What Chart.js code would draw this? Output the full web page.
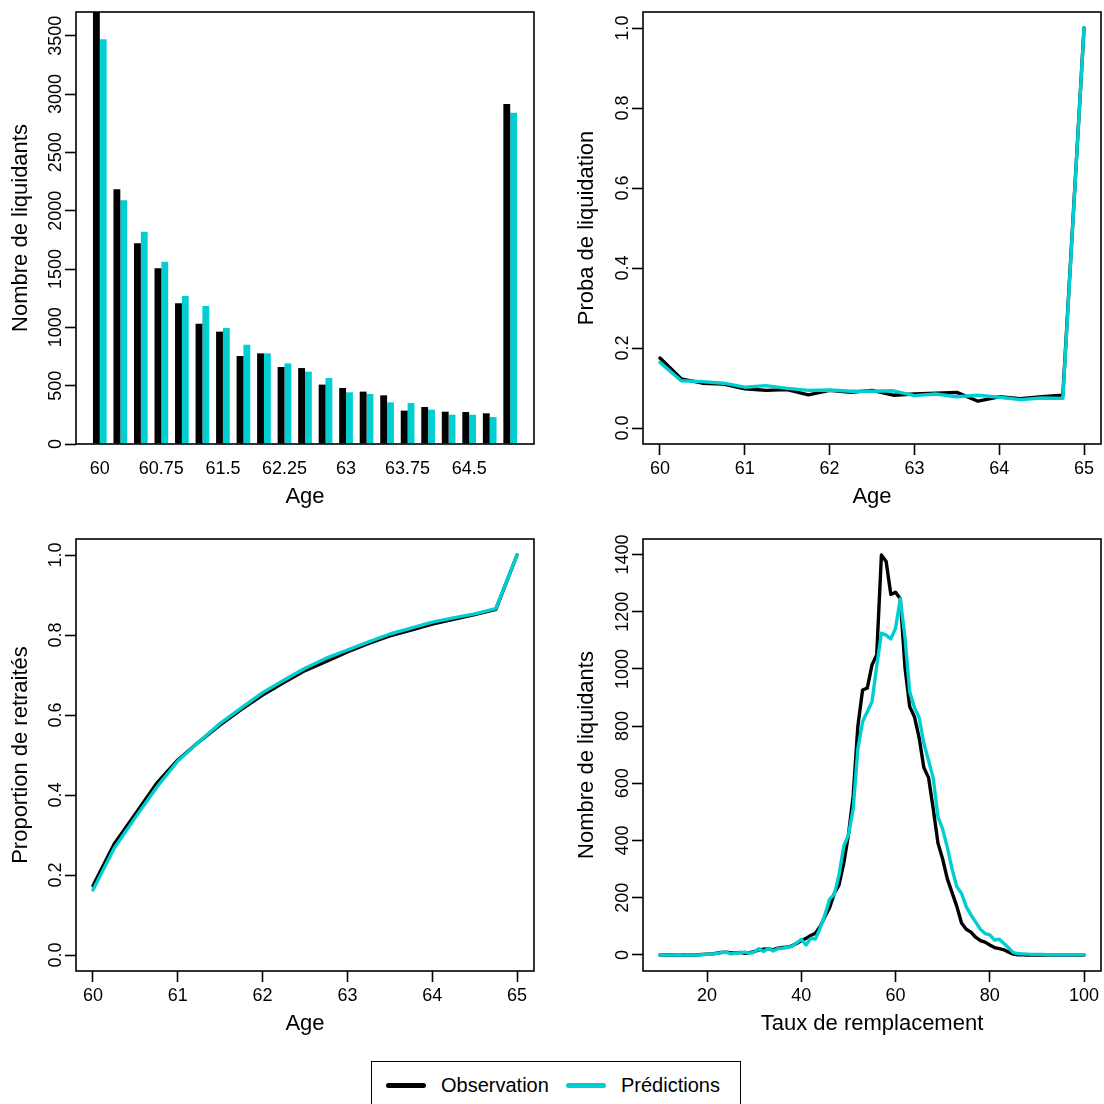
<!DOCTYPE html>
<html><head><meta charset="utf-8">
<script src="https://cdn.jsdelivr.net/npm/chart.js@4.4.0/dist/chart.umd.min.js"></script>
<style>
html,body{margin:0;padding:0;background:#fff;width:1104px;height:1104px;overflow:hidden;}
canvas{position:absolute;}
#legend{position:absolute;left:371px;top:1061px;width:370px;height:70px;border:1.6px solid #000;box-sizing:border-box;font-family:'Liberation Sans',Arial,Helvetica,sans-serif;font-size:20px;color:#000;}
#legend .ln{position:absolute;top:21px;width:40px;height:5px;border-radius:3px;}
#legend .tx{position:absolute;top:11px;line-height:24px;white-space:nowrap;}
</style></head><body>
<canvas id="c1" width="552" height="520" style="left:0;top:0"></canvas>
<canvas id="c2" width="552" height="520" style="left:552px;top:0"></canvas>
<canvas id="c3" width="552" height="520" style="left:0;top:527px"></canvas>
<canvas id="c4" width="552" height="520" style="left:552px;top:527px"></canvas>
<div id="legend">
  <span class="ln" style="left:14px;background:#000"></span>
  <span class="tx" style="left:69px">Observation</span>
  <span class="ln" style="left:194px;background:#00CED1"></span>
  <span class="tx" style="left:249px">Prédictions</span>
</div>
<script>
// ---------- DATA ----------
const ages = [60, 60.25, 60.5, 60.75, 61, 61.25, 61.5, 61.75, 62, 62.25, 62.5, 62.75, 63, 63.25, 63.5, 63.75, 64, 64.25, 64.5, 64.75, 65];
const barAgeTicks = [60, 60.75, 61.5, 62.25, 63, 63.75, 64.5];
const ageTicks = [60, 61, 62, 63, 64, 65];

const countObs  = [3880, 2183, 1720, 1506, 1206, 1031, 963, 754, 777, 660, 651, 509, 480, 449, 417, 286, 317, 277, 274, 263, 2914];
const countPred = [3469, 2089, 1820, 1563, 1269, 1183, 994, 851, 777, 691, 620, 566, 443, 429, 357, 351, 294, 251, 251, 231, 2840];
const countTicks = [0, 500, 1000, 1500, 2000, 2500, 3000, 3500];

const probaObs  = [0.175, 0.123, 0.112, 0.110, 0.098, 0.094, 0.096, 0.083, 0.094, 0.089, 0.094, 0.082, 0.085, 0.087, 0.089, 0.067, 0.078, 0.073, 0.078, 0.082, 1.0];
const probaPred = [0.164, 0.118, 0.116, 0.112, 0.102, 0.106, 0.099, 0.094, 0.095, 0.092, 0.092, 0.093, 0.081, 0.085, 0.078, 0.082, 0.077, 0.071, 0.075, 0.074, 1.0];

const propObs  = [0.173, 0.2775, 0.3525, 0.429, 0.4875, 0.533, 0.575, 0.614, 0.650, 0.681, 0.711, 0.734, 0.7575, 0.779, 0.798, 0.8125, 0.827, 0.839, 0.851, 0.864, 1.0];
const propPred = [0.1625, 0.267, 0.344, 0.419, 0.485, 0.533, 0.579, 0.618, 0.656, 0.687, 0.717, 0.742, 0.7625, 0.783, 0.8025, 0.817, 0.832, 0.843, 0.853, 0.866, 1.0];
const unitTicks = [0, 0.2, 0.4, 0.6, 0.8, 1.0];

const taux = [10,11,12,13,14,15,16,17,18,19,20,21,22,23,24,25,26,27,28,29,30,31,32,33,34,35,36,37,38,39,40,41,42,43,44,45,46,47,48,49,50,51,52,53,54,55,56,57,58,59,60,61,62,63,64,65,66,67,68,69,70,71,72,73,74,75,76,77,78,79,80,81,82,83,84,85,86,87,88,89,90,91,92,93,94,95,96,97,98,99,100];
const tauxObs = [0,0,1,0,0,1,0,0,1,2,
  3,4,6,9,10,8,7,9,6,8,
  12,18,20,22,18,24,26,27,32,40,
  50,58,68,76,100,134,165,215,245,320,
  420,555,800,926,933,1014,1049,1398,1375,1260,
  1268,1245,1005,868,833,760,655,620,510,391,
  335,265,218,170,112,90,80,62,50,45,
  35,26,22,18,10,3,1,1,0,0,
  1,0,0,0,0,1,0,0,0,0,0];
const tauxPred = [0,0,0,0,1,0,0,0,0,1,
  2,3,5,8,10,4,6,8,10,6,
  10,22,12,24,14,22,24,26,30,42,
  55,35,58,56,95,140,195,212,280,380,
  420,510,720,815,850,885,1010,1125,1118,1105,
  1142,1245,1110,920,865,830,740,680,618,483,
  440,375,300,239,215,169,140,115,90,75,
  70,52,55,40,25,8,5,4,3,2,
  2,2,1,1,1,1,1,1,1,1,1];
const tauxXTicks = [20, 40, 60, 80, 100];
const tauxYTicks = [0, 200, 400, 600, 800, 1000, 1200, 1400];

// ---------- STYLE ----------
const FONT = "'Liberation Sans', Arial, Helvetica, sans-serif";
const BLACK = '#000000';
const CYAN = '#00CED1';

const rBox = {
  id: 'rBox',
  afterDraw(chart) {
    const {ctx, chartArea: a} = chart;
    ctx.save();
    ctx.strokeStyle = '#000';
    ctx.lineWidth = 1.6;
    ctx.strokeRect(a.left, a.top, a.right - a.left, a.bottom - a.top);
    const ys = chart.scales.y;
    ctx.fillStyle = '#000';
    ctx.font = '18px ' + FONT;
    ctx.textAlign = 'center';
    ctx.textBaseline = 'middle';
    ys.ticks.forEach((t) => {
      const py = ys.getPixelForValue(t.value);
      ctx.save();
      ctx.translate(a.left - 20, py);
      ctx.rotate(-Math.PI / 2);
      ctx.fillText(t.label !== undefined ? t.label : String(t.value), 0, 0);
      ctx.restore();
    });
    ctx.restore();
  }
};

function yScale(min, max, tickVals, fmt, width, title, titlePad) {
  return {
    type: 'linear', position: 'left', min, max,
    afterBuildTicks: s => { s.ticks = tickVals.map(v => ({value: v})); },
    afterFit: s => { s.width = width; s.paddingTop = 0; s.paddingBottom = 0; },
    ticks: { display: false, callback: fmt },
    grid: { display: true, drawOnChartArea: false, drawTicks: true, tickLength: 11, tickWidth: 1.6, tickColor: '#000' },
    border: { display: false },
    title: { display: true, text: title, color: '#000', font: {family: FONT, size: 22}, padding: {top: titlePad, bottom: 0} }
  };
}
function xScale(min, max, tickVals, fmt, height, title, tickColor) {
  return {
    type: 'linear', position: 'bottom', min, max, offset: false,
    afterBuildTicks: s => { s.ticks = tickVals.map(v => ({value: v})); },
    afterFit: s => { s.height = height; s.paddingLeft = 0; s.paddingRight = 0; },
    ticks: { display: true, callback: fmt, color: '#000', font: {family: FONT, size: 18}, padding: 3, maxRotation: 0, minRotation: 0, autoSkip: false },
    grid: { display: true, offset: false, drawOnChartArea: false, drawTicks: true, tickLength: 11, tickWidth: 1.6, tickColor: tickColor },
    border: { display: false },
    title: { display: true, text: title, color: '#000', font: {family: FONT, size: 22}, padding: {top: 0, bottom: 10} }
  };
}
const commonPlugins = { legend: {display: false}, tooltip: {enabled: false} };
const pts = (xs, ys) => xs.map((x, i) => ({x: x, y: ys[i]}));
function lineDs(label, xs, ys, color, order) {
  return { label, data: pts(xs, ys), borderColor: color, backgroundColor: color, borderWidth: 3.4,
    pointRadius: 0, tension: 0, borderJoinStyle: 'round', borderCapStyle: 'round', order };
}

// ---------- PANEL 1: bars ----------
new Chart(document.getElementById('c1'), {
  type: 'bar',
  data: { datasets: [
    { label: 'Observation', data: pts(ages, countObs), backgroundColor: BLACK, borderWidth: 0, categoryPercentage: 2/3, barPercentage: 1, clip: 0 },
    { label: 'Prédictions', data: pts(ages, countPred), backgroundColor: CYAN, borderWidth: 0, categoryPercentage: 2/3, barPercentage: 1, clip: 0 }
  ]},
  options: {
    responsive: false, animation: false,
    layout: { padding: {left: 0, top: 12, right: 18, bottom: 0} },
    plugins: commonPlugins,
    scales: {
      x: xScale(59.71, 65.29, barAgeTicks, v => String(v), 76, 'Age', 'rgba(0,0,0,0)'),
      y: yScale(0, 3703, countTicks, v => String(v), 76, 'Nombre de liquidants', 8)
    }
  },
  plugins: [rBox]
});

// ---------- PANEL 2: proba ----------
new Chart(document.getElementById('c2'), {
  type: 'line',
  data: { datasets: [
    lineDs('Observation', ages, probaObs, BLACK, 2),
    lineDs('Prédictions', ages, probaPred, CYAN, 1)
  ]},
  options: {
    responsive: false, animation: false,
    layout: { padding: {left: 0, top: 12, right: 3, bottom: 0} },
    plugins: commonPlugins,
    scales: {
      x: xScale(59.8, 65.2, ageTicks, v => String(v), 76, 'Age', '#000'),
      y: yScale(-0.04, 1.04, unitTicks, v => v.toFixed(1), 91, 'Proba de liquidation', 22)
    }
  },
  plugins: [rBox]
});

// ---------- PANEL 3: cumulative proportion ----------
new Chart(document.getElementById('c3'), {
  type: 'line',
  data: { datasets: [
    lineDs('Observation', ages, propObs, BLACK, 2),
    lineDs('Prédictions', ages, propPred, CYAN, 1)
  ]},
  options: {
    responsive: false, animation: false,
    layout: { padding: {left: 0, top: 12, right: 18, bottom: 0} },
    plugins: commonPlugins,
    scales: {
      x: xScale(59.8, 65.2, ageTicks, v => String(v), 76, 'Age', '#000'),
      y: yScale(-0.04, 1.04, unitTicks, v => v.toFixed(1), 76, 'Proportion de retraités', 8)
    }
  },
  plugins: [rBox]
});

// ---------- PANEL 4: taux de remplacement ----------
new Chart(document.getElementById('c4'), {
  type: 'line',
  data: { datasets: [
    lineDs('Observation', taux, tauxObs, BLACK, 2),
    lineDs('Prédictions', taux, tauxPred, CYAN, 1)
  ]},
  options: {
    responsive: false, animation: false,
    layout: { padding: {left: 0, top: 12, right: 3, bottom: 0} },
    plugins: commonPlugins,
    scales: {
      x: xScale(6.4, 103.6, tauxXTicks, v => String(v), 76, 'Taux de remplacement', '#000'),
      y: yScale(-56, 1454, tauxYTicks, v => String(v), 91, 'Nombre de liquidants', 22)
    }
  },
  plugins: [rBox]
});
</script>
</body></html>
